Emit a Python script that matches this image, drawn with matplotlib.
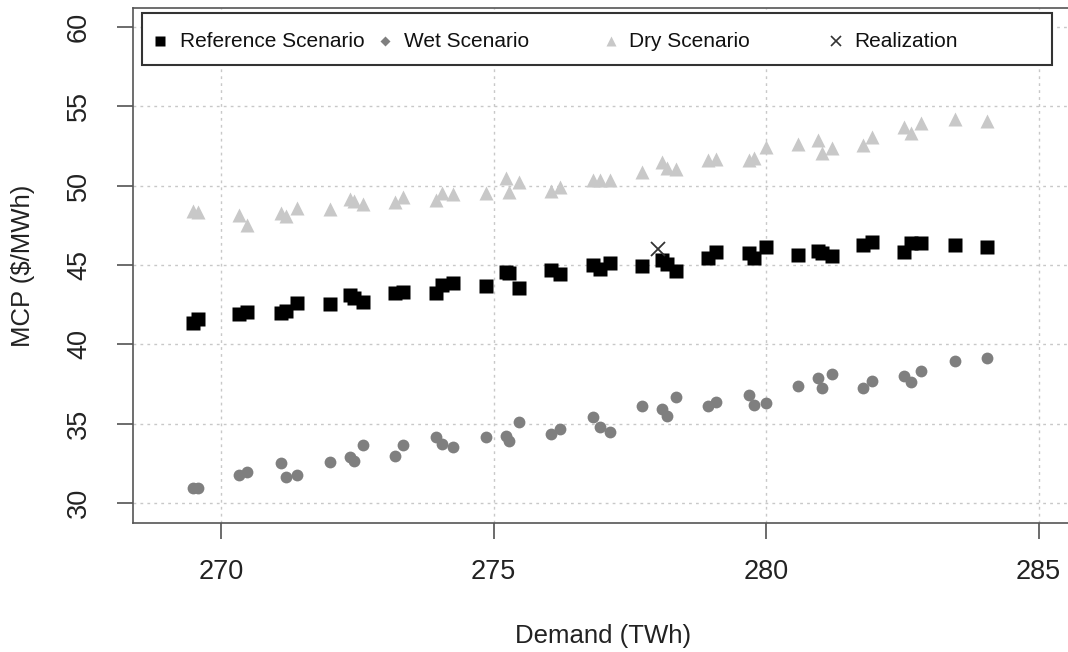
import matplotlib
matplotlib.use("Agg")
import matplotlib.pyplot as plt
from matplotlib.patches import Rectangle

plt.rcParams['font.family'] = ['Liberation Sans', 'DejaVu Sans']

# Demand (TWh), shared by all scenarios
demand = [269.48, 269.57, 270.33, 270.47, 271.10, 271.19, 271.40, 272.00, 272.36, 272.44,
          272.60, 273.19, 273.34, 273.94, 274.06, 274.25, 274.86, 275.23, 275.29, 275.46,
          276.06, 276.21, 276.83, 276.95, 277.13, 277.73, 278.09, 278.18, 278.34, 278.94,
          279.08, 279.68, 279.78, 279.99, 280.59, 280.95, 281.03, 281.21, 281.78, 281.94,
          282.53, 282.66, 282.84, 283.46, 284.06]

mcp_reference = [41.37, 41.59, 41.92, 42.07, 41.98, 42.11, 42.63, 42.53, 43.12, 42.93,
                 42.66, 43.22, 43.32, 43.22, 43.75, 43.85, 43.68, 44.58, 44.48, 43.58,
                 44.69, 44.42, 45.00, 44.75, 45.10, 44.96, 45.35, 45.07, 44.65, 45.47,
                 45.80, 45.74, 45.43, 46.16, 45.64, 45.91, 45.76, 45.57, 46.27, 46.44,
                 45.81, 46.37, 46.37, 46.27, 46.16]

mcp_wet = [30.94, 30.94, 31.78, 31.99, 32.52, 31.68, 31.78, 32.62, 32.93, 32.68,
           33.67, 33.00, 33.67, 34.19, 33.73, 33.53, 34.16, 34.26, 33.94, 35.10,
           34.36, 34.68, 35.45, 34.79, 34.47, 36.15, 35.94, 35.52, 36.68, 36.15,
           36.36, 36.82, 36.19, 36.34, 37.41, 37.87, 37.28, 38.14, 37.28, 37.72,
           38.04, 37.62, 38.35, 38.98, 39.17]

mcp_dry = [48.40, 48.32, 48.16, 47.53, 48.26, 48.09, 48.58, 48.51, 49.14, 49.04,
           48.85, 48.99, 49.27, 49.10, 49.56, 49.48, 49.52, 50.50, 49.58, 50.21,
           49.67, 49.90, 50.36, 50.36, 50.36, 50.88, 51.47, 51.10, 51.05, 51.62,
           51.66, 51.62, 51.73, 52.46, 52.63, 52.88, 52.04, 52.36, 52.56, 53.09,
           53.72, 53.30, 53.97, 54.22, 54.09]

realization_demand = [278.01]
realization_mcp = [46.0]

x_ticks = [270, 275, 280, 285]
y_ticks = [30, 35, 40, 45, 50, 55, 60]

legend_labels = ["Reference Scenario", "Wet Scenario", "Dry Scenario", "Realization"]

DARK = "#333333"
fig = plt.figure(figsize=(10.68, 6.52), dpi=100)
ax = fig.add_axes([0.12453, 0.1974, 0.8801, 0.7899])
ax.set_xlim(268.385, 285.63)
ax.set_ylim(28.74, 61.17)

# grid
for xv in x_ticks:
    ax.axvline(xv, color="#C8C8C8", lw=1.0, ls=(0, (2, 3)), zorder=0)
for yv in y_ticks:
    ax.axhline(yv, color="#C8C8C8", lw=1.0, ls=(0, (2, 3)), zorder=0)

ax.plot(demand, mcp_dry, ls="none", marker="^", ms=10.5, color="#C8C8C8", mec="none", zorder=2)
ax.plot(demand, mcp_reference, ls="none", marker="s", ms=9.5, color="black", mec="none", zorder=3)
ax.plot(demand, mcp_wet, ls="none", marker="o", ms=8.5, color="#7F7F7F", mec="none", zorder=3)
ax.plot(realization_demand, realization_mcp, ls="none", marker="x", ms=10, mew=1.3,
        color=DARK, zorder=4)

ax.set_xticks(x_ticks)
ax.set_yticks(y_ticks)
ax.set_xticklabels([str(v) for v in x_ticks])
ax.set_yticklabels([str(v) for v in y_ticks], rotation=90, va="center")
ax.tick_params(axis="both", which="major", length=11.5, width=1.1, color="#444444",
               labelsize=19.5, labelcolor="#222222")
ax.tick_params(axis="x", pad=14)
ax.tick_params(axis="y", pad=18)

for s in ["left", "bottom", "top", "right"]:
    ax.spines[s].set_color("#555555")
    ax.spines[s].set_linewidth(1.2)

ax.set_xlabel("Demand (TWh)", fontsize=18.5, color="#222222")
ax.set_ylabel("MCP ($/MWh)", fontsize=18.5, color="#222222")
ax.xaxis.set_label_coords(0.5, -0.2188)
ax.xaxis.label.set_va("center")
ax.yaxis.set_label_coords(-0.117, 0.5)
ax.yaxis.label.set_va("center")

# legend drawn as a framed row
ax.add_patch(Rectangle((0.00957, 0.8899), 0.9777 - 0.00957, 0.9903 - 0.8899,
                       transform=ax.transAxes, fill=True, facecolor="white",
                       edgecolor=DARK, lw=1.5, zorder=5, clip_on=False))
mk_x = [0.0287, 0.2681, 0.5085, 0.7479]
tx_x = [0.050, 0.2883, 0.5277, 0.767]
styles = [dict(marker="s", ms=6.5, color="black", mec="none"),
          dict(marker="D", ms=5.0, color="#7F7F7F", mec="none"),
          dict(marker="^", ms=6.5, color="#C8C8C8", mec="none"),
          dict(marker="x", ms=6.5, mew=1.2, color=DARK)]
for mx, tx, lab, st in zip(mk_x, tx_x, legend_labels, styles):
    ax.plot([mx], [0.9365], transform=ax.transAxes, ls="none", zorder=6, clip_on=False, **st)
    ax.text(tx, 0.9346, lab, transform=ax.transAxes, fontsize=15, color="#111111",
            ha="left", va="center", zorder=6)

fig.savefig("out.png", dpi=100)
